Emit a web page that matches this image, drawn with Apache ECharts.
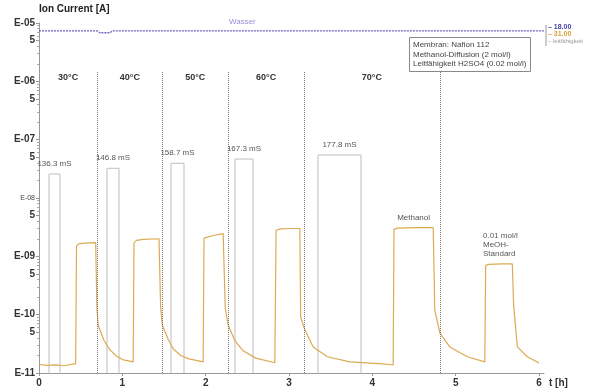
<!DOCTYPE html>
<html>
<head>
<meta charset="utf-8">
<script src="https://cdn.jsdelivr.net/npm/echarts@6/dist/echarts.min.js"></script>
<style>
  html, body { margin: 0; padding: 0; background: #fff; }
  #chart { width: 597px; height: 391px; }
</style>
</head>
<body>
<div id="chart"></div>
<script>
// t [h], Ion Current [A]
const wasserData = [
  [0, 7.3e-6], [0.70, 7.3e-6], [0.73, 6.8e-6], [0.85, 6.8e-6], [0.88, 7.3e-6],
  [2, 7.35e-6], [3, 7.35e-6], [4, 7.35e-6], [5, 7.35e-6], [6.06, 7.35e-6]
]
const methanolData = [
  [0, 1.40e-11], [0.1, 1.35e-11], [0.2, 1.38e-11], [0.3, 1.33e-11], [0.44, 1.45e-11],
  [0.45, 1.5e-9], [0.48, 1.65e-9], [0.6, 1.7e-9], [0.68, 1.72e-9],
  [0.695, 1.3e-10], [0.71, 6.6e-11], [0.78, 3.6e-11], [0.85, 2.5e-11], [0.93, 1.95e-11], [1.0, 1.7e-11], [1.13, 1.55e-11],
  [1.14, 1.7e-9], [1.17, 1.88e-9], [1.25, 1.95e-9], [1.44, 2.0e-9],
  [1.46, 1.3e-10], [1.48, 6.6e-11], [1.55, 3.8e-11], [1.61, 2.6e-11], [1.7, 2.0e-11], [1.8, 1.75e-11], [1.97, 1.55e-11],
  [1.98, 2.05e-9], [2.0, 2.15e-9], [2.1, 2.3e-9], [2.21, 2.45e-9],
  [2.235, 1.3e-10], [2.27, 6.6e-11], [2.35, 3.6e-11], [2.45, 2.4e-11], [2.6, 1.8e-11], [2.83, 1.5e-11],
  [2.845, 2.8e-9], [2.9, 2.95e-9], [3.0, 3.0e-9], [3.13, 3.0e-9],
  [3.14, 9.1e-11], [3.19, 5.5e-11], [3.29, 2.8e-11], [3.46, 1.9e-11], [3.73, 1.55e-11], [4.13, 1.43e-11], [4.25, 1.37e-11],
  [4.26, 2.9e-9], [4.3, 3.05e-9], [4.5, 3.1e-9], [4.73, 3.1e-9],
  [4.75, 1.2e-10], [4.81, 4.85e-11], [4.93, 2.8e-11], [5.14, 1.9e-11], [5.35, 1.55e-11],
  [5.36, 7.0e-10], [5.4, 7.3e-10], [5.55, 7.4e-10], [5.68, 7.4e-10],
  [5.695, 1.5e-10], [5.74, 2.8e-11], [5.86, 1.9e-11], [6.0, 1.48e-11]
]
// Leitfähigkeit pulses
const pulseStart = [0.12, 0.816, 1.584, 2.352, 3.348]
const pulseEnd = [0.252, 0.96, 1.74, 2.568, 3.864]
const pulseTop = [2.58e-8, 3.23e-8, 3.94e-8, 4.66e-8, 5.46e-8]
const pulseLabels = ['136.3 mS', '146.8 mS', '158.7 mS', '167.3 mS', '177.8 mS']
const pulseBase = 1e-12

const phaseBounds = [0, 0.70, 1.48, 2.27, 3.18, 4.81]
const phaseLabels = ['30°C', '40°C', '50°C', '60°C', '70°C']

const xTicks = [0, 1, 2, 3, 4, 5, 6]
const yDecades = [-11, -10, -9, -8, -7, -6, -5]

const lg = v => Math.log10(v)
const toLog = arr => arr.map(p => [p[0], lg(p[1])])

const leitData = [[0, pulseBase]]
pulseStart.forEach((s, i) => {
  leitData.push([s, pulseBase], [s, pulseTop[i]], [pulseEnd[i], pulseTop[i]], [pulseEnd[i], pulseBase])
})
leitData.push([6.06, pulseBase])

const labelVals = []
const minorVals = []
yDecades.forEach(d => {
  labelVals.push(d)
  if (d < -5) {
    labelVals.push(d + lg(5))
    ;[2, 3, 4, 6, 7, 8, 9].forEach(k => minorVals.push(d + lg(k)))
  }
})

const FONT = 'Liberation Sans'
const lineTop = -5.84 // where the dotted separators start

const chart = echarts.init(document.getElementById('chart'))
chart.setOption({
  animation: false,
  textStyle: { fontFamily: FONT },
  grid: { left: 39, right: 53, top: 23, bottom: 18 },
  title: {
    left: 409,
    top: 37,
    text: 'Membran: Nafion 112\nMethanol-Diffusion (2 mol/l)\nLeitfähigkeit H2SO4 (0.02 mol/l)',
    padding: [3, 4, 3, 4],
    borderColor: '#888',
    borderWidth: 1,
    textStyle: { fontSize: 8, lineHeight: 9.6, fontWeight: 'normal', color: '#444', fontFamily: FONT }
  },
  xAxis: {
    type: 'value',
    min: 0,
    max: 6.06,
    name: 't [h]',
    nameLocation: 'end',
    nameGap: 5,
    nameTextStyle: { fontWeight: 'bold', fontSize: 10, color: '#333', verticalAlign: 'top', padding: [5, 0, 0, 0] },
    axisLine: { lineStyle: { color: '#999' } },
    axisTick: { customValues: xTicks, length: 3, lineStyle: { color: '#999' } },
    axisLabel: { customValues: xTicks, fontWeight: 'bold', fontSize: 10, color: '#333', margin: 5 },
    splitLine: { show: false }
  },
  yAxis: [
    {
      type: 'value',
      min: -11,
      max: -5,
      name: 'Ion Current [A]',
      nameGap: 9,
      nameTextStyle: { fontWeight: 'bold', fontSize: 10, color: '#222', align: 'left' },
      axisLine: { show: true, lineStyle: { color: '#999' } },
      axisTick: { show: true, customValues: labelVals, length: 3, lineStyle: { color: '#999' } },
      axisLabel: {
        customValues: labelVals,
        margin: 4,
        fontWeight: 'bold',
        fontSize: 10,
        color: '#333',
        formatter: v => {
          const r = Math.round(v)
          if (Math.abs(v - r) > 1e-6) return '5'
          const s = 'E-' + String(-r).padStart(2, '0')
          return r === -8 ? '{s|' + s + '}' : s
        },
        rich: { s: { fontSize: 7, fontWeight: 'normal', color: '#444' } }
      },
      splitLine: { show: false }
    },
    {
      type: 'value',
      min: -11,
      max: -5,
      position: 'left',
      axisLine: { show: false },
      axisTick: { show: true, customValues: minorVals, length: 2, lineStyle: { color: '#aaa' } },
      axisLabel: { show: false },
      splitLine: { show: false }
    }
  ],
  series: [
    {
      name: 'Leitfähigkeit',
      type: 'line',
      data: toLog(leitData),
      showSymbol: false,
      lineStyle: { color: '#bdbdbd', width: 1 },
      itemStyle: { color: '#bdbdbd' },
      markPoint: {
        symbolSize: 0,
        label: { show: true, position: 'top', distance: 6, fontSize: 8, color: '#555', formatter: '{b}' },
        data: pulseLabels.map((t, i) => ({
          name: t,
          coord: [(pulseStart[i] + pulseEnd[i]) / 2, lg(pulseTop[i])]
        }))
      },
      markLine: {
        silent: true,
        symbol: ['none', 'none'],
        label: { show: false },
        lineStyle: { type: 'dotted', color: '#777', width: 1 },
        data: phaseBounds.slice(1).map(b => [{ xAxis: b, yAxis: lineTop }, { xAxis: b, yAxis: -11 }])
      },
      markArea: {
        silent: true,
        itemStyle: { color: 'rgba(0,0,0,0)' },
        label: { show: true, position: 'insideTop', distance: 1, fontSize: 9, fontWeight: 'bold', color: '#333' },
        data: phaseLabels.map((t, i) => [
          { name: t, xAxis: phaseBounds[i], yAxis: lineTop },
          { xAxis: phaseBounds[i + 1], yAxis: -11 }
        ])
      }
    },
    {
      name: 'Methanol',
      type: 'line',
      data: toLog(methanolData),
      showSymbol: false,
      lineStyle: { color: '#dcaa52', width: 1.2 },
      itemStyle: { color: '#dcaa52' },
      markPoint: {
        symbolSize: 0,
        label: { show: true, position: 'top', distance: 6, fontSize: 8, color: '#555', formatter: '{b}' },
        data: [
          { name: 'Methanol', coord: [4.495, lg(3.1e-9)] },
          {
            name: '0.01 mol/l\nMeOH-\nStandard',
            coord: [5.52, lg(7.4e-10)],
            label: { align: 'left', offset: [-16, 0], lineHeight: 9 }
          }
        ]
      }
    },
    {
      name: 'Wasser',
      type: 'line',
      data: toLog(wasserData),
      showSymbol: false,
      lineStyle: { color: '#6f63bd', width: 1.3, type: [2, 1] },
      itemStyle: { color: '#6f63bd' },
      markPoint: {
        symbolSize: 0,
        label: { show: true, position: 'top', distance: 5, fontSize: 8, color: '#9a8fd6', formatter: '{b}' },
        data: [{ name: 'Wasser', coord: [2.44, lg(7.35e-6)] }]
      }
    }
  ],
  graphic: [
    { type: 'line', shape: { x1: 546, y1: 25, x2: 546, y2: 46 }, style: { stroke: '#999', lineWidth: 1 } },
    { type: 'text', left: 548, top: 24, style: { text: '– 18.00', fill: '#4a3fa8', font: 'bold 7px ' + FONT } },
    { type: 'text', left: 548, top: 31, style: { text: '– 31.00', fill: '#d9a13c', font: 'bold 7px ' + FONT } },
    { type: 'text', left: 548, top: 38, style: { text: '– leitfähigkeit', fill: '#999', font: '6px ' + FONT } }
  ]
})
</script>
</body>
</html>
